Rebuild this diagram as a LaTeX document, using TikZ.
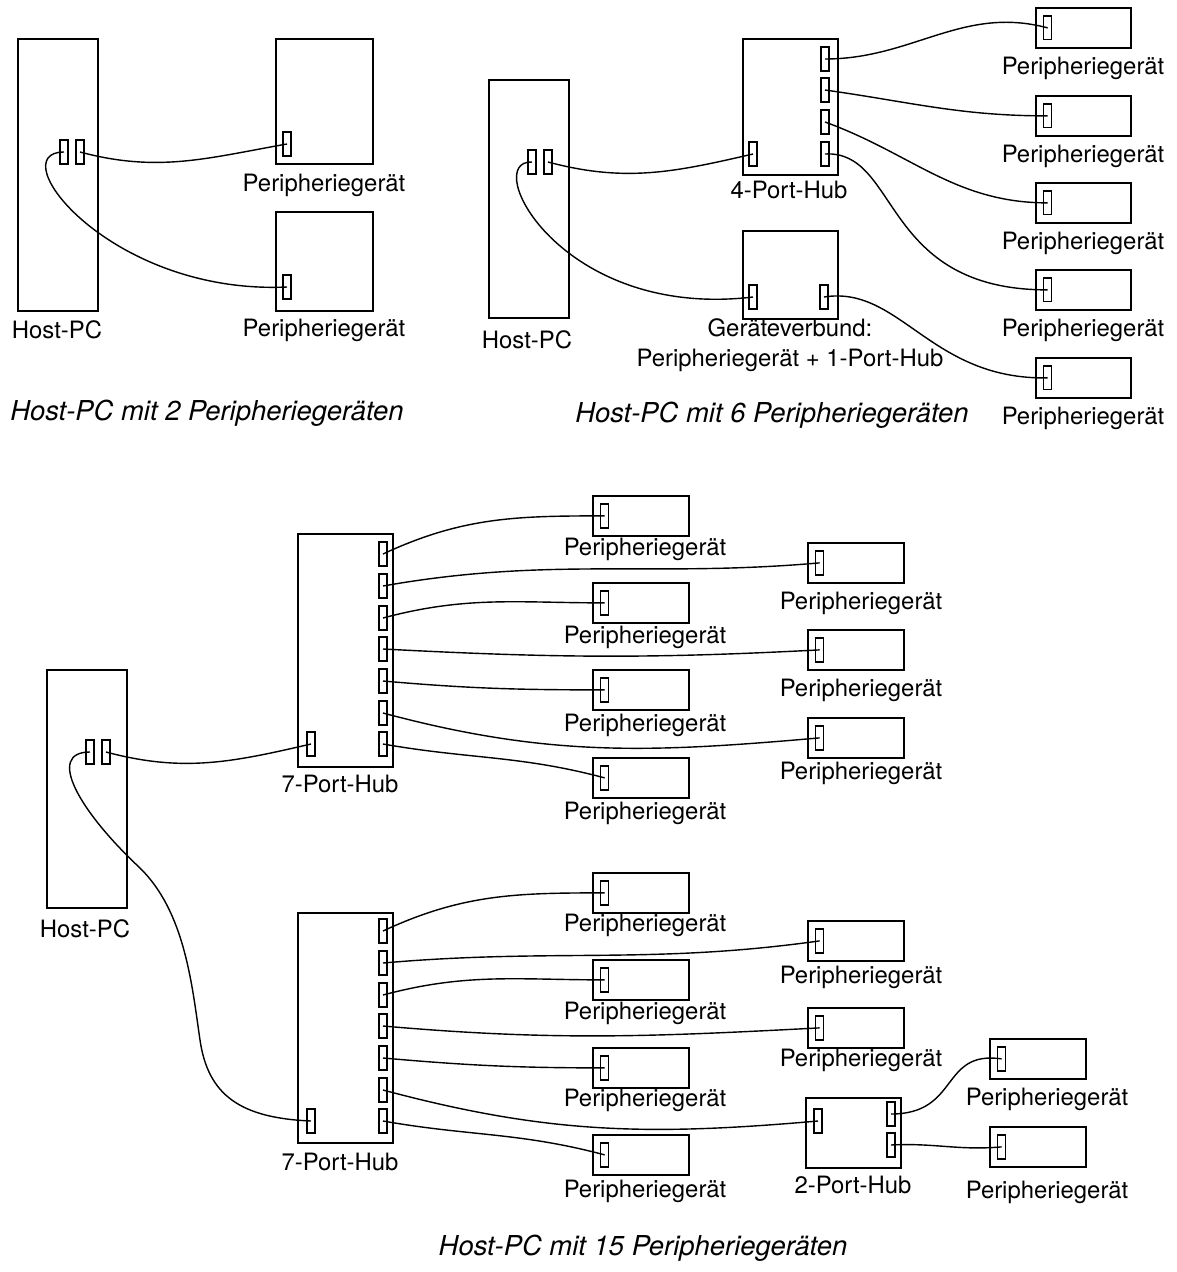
\documentclass[tikz,border=0pt]{standalone}
\usepackage{fontspec}
\setmainfont{TeX Gyre Heros}
\usetikzlibrary{positioning}

\begin{document}
\begin{tikzpicture}[x=0.02cm, y=-0.02cm,
  unit/.style 2 args={draw, line width=1pt, anchor=north west, inner sep=0pt,
    minimum width=#1*0.02cm, minimum height=#2*0.02cm},
  port/.style={draw, line width=0.7pt, inner sep=0pt,
    minimum width=0.16cm, minimum height=0.48cm},
  cable/.style={line width=0.8pt},
  lbl/.style={font=\fontsize{13.6pt}{17pt}\selectfont, inner sep=0pt, align=center},
  caption/.style={font=\fontsize{15.6pt}{19pt}\selectfont\itshape, inner sep=0pt}]

\useasboundingbox (0,0) rectangle (1177,1272);

% --- Host-PC mit 2 Peripheriegeraeten ---
\node[unit={80}{272}] (host1) at (17,38) {};
\node[port] (h1a) at (64,152) {};
\node[port] (h1b) at (80,152) {};
\node[lbl] (host1l) at (57,330) {Host-PC};

\node[unit={97}{125}] (q1) at (275,38) {};
\node[port] (q1p) at (287,144) {};
\node[lbl] (q1l) at (324,185) {Peripheriegerät};

\node[unit={97}{99}] (q2) at (275,211) {};
\node[port] (q2p) at (287,287) {};
\node[lbl] (q2l) at (324,330) {Peripheriegerät};

\draw[cable] (h1b.center) to[out=-15,in=190] (q1p.center);
\draw[cable] (h1a.center) .. controls (0,152) and (110,295) .. (q2p.center);

\node[caption] (cap1) at (207,413) {Host-PC mit 2 Peripheriegeräten};

% --- Host-PC mit 6 Peripheriegeraeten ---
\node[unit={80}{238}] (host2) at (488,79) {};
\node[port] (h2a) at (532,162) {};
\node[port] (h2b) at (548,162) {};
\node[lbl] (host2l) at (527,340) {Host-PC};

\node[unit={95}{136}] (hub4) at (742,38) {};
\foreach \i/\y in {1/59, 2/90, 3/122, 4/154}
  \node[port] (u\i) at (825,\y) {};
\node[port] (u5) at (753,154) {};
\node[lbl] (hub4l) at (789,190) {4-Port-Hub};

\node[unit={95}{88}] (verbund) at (742,230) {};
\node[port] (v1) at (753,297) {};
\node[port] (v2) at (824,297) {};
\node[lbl] (verbundl) at (790,345) {Geräteverbund:\\Peripheriegerät + 1-Port-Hub};

\foreach \n/\y in {r1/7, r2/95, r3/182, r4/269, r5/357} {
  \node[unit={95}{40}] (\n) at (1035,\y) {};
  \node[port, right=0.16cm of \n.west] (\n p) {};
  \node[lbl] at (1083,\y+61) {Peripheriegerät};
}

\draw[cable] (h2b.center) to[out=-15,in=193] (u5.center);
\draw[cable] (h2a.center) .. controls (480,160) and (560,320) .. (v1.center);
\draw[cable] (u1.center) to[out=0,in=165] (r1p.center);
\draw[cable] (u2.center) to[out=-8,in=180] (r2p.center);
\draw[cable] (u3.center) to[out=-20,in=180] (r3p.center);
\draw[cable] (u4.center) .. controls (900,150) and (880,290) .. (r4p.center);
\draw[cable] (v2.center) .. controls (900,285) and (930,380) .. (r5p.center);

\node[caption] (cap2) at (772,415) {Host-PC mit 6 Peripheriegeräten};

% --- Host-PC mit 15 Peripheriegeraeten ---
\node[unit={80}{238}] (host3) at (46,669) {};
\node[port] (h3a) at (90,752) {};
\node[port] (h3b) at (106,752) {};
\node[lbl] (host3l) at (85,929) {Host-PC};

% upper 7-port hub
\node[unit={95}{233}] (hubA) at (297,533) {};
\foreach \i/\y in {1/554, 2/586, 3/618, 4/649, 5/681, 6/713, 7/744}
  \node[port] (a\i) at (383,\y) {};
\node[port] (a8) at (311,744) {};
\node[lbl] (hubAl) at (340,784) {7-Port-Hub};

% lower 7-port hub
\node[unit={95}{230}] (hubB) at (297,912) {};
\foreach \i/\y in {1/931, 2/963, 3/995, 4/1026, 5/1058, 6/1090, 7/1121}
  \node[port] (b\i) at (383,\y) {};
\node[port] (b8) at (311,1121) {};
\node[lbl] (hubBl) at (340,1162) {7-Port-Hub};

% 2-port hub
\node[unit={95}{70}] (hub2) at (805,1097) {};
\node[port] (t1) at (818,1121) {};
\node[port] (t2) at (891,1114) {};
\node[port] (t3) at (891,1145) {};
\node[lbl] (hub2l) at (853,1185) {2-Port-Hub};

% peripherals
\foreach \n/\x/\y/\lx/\ly in {c1/592/495/645/549, c2/592/582/645/637,
    c3/592/669/645/725, c4/592/757/645/813,
    e1/807/542/861/603, e2/807/629/861/690, e3/807/717/861/773,
    f1/592/872/645/925, f2/592/959/645/1013, f3/592/1047/645/1100,
    f4/592/1134/645/1191,
    g1/807/920/861/977, g2/807/1007/861/1060,
    x1/989/1038/1047/1099, x2/989/1126/1047/1192} {
  \node[unit={96}{40}] (\n) at (\x,\y) {};
  \node[port, right=0.16cm of \n.west] (\n p) {};
  \node[lbl] at (\lx,\ly) {Peripheriegerät};
}

\draw[cable] (h3b.center) to[out=-15,in=193] (a8.center);
\draw[cable] (h3a.center) .. controls (45,752) and (80,812) .. (140,868)
  .. controls (185,912) and (192,985) .. (200,1040)
  .. controls (208,1095) and (240,1118) .. (b8.center);

\draw[cable] (a1.center) to[out=25,in=180] (c1p.center);
\draw[cable] (a2.center) to[out=10,in=185] (e1p.center);
\draw[cable] (a3.center) to[out=15,in=180] (c2p.center);
\draw[cable] (a4.center) to[out=-3,in=183] (e2p.center);
\draw[cable] (a5.center) to[out=-5,in=180] (c3p.center);
\draw[cable] (a6.center) to[out=-15,in=185] (e3p.center);
\draw[cable] (a7.center) to[out=-10,in=165] (c4p.center);

\draw[cable] (b1.center) to[out=25,in=180] (f1p.center);
\draw[cable] (b2.center) to[out=5,in=188] (g1p.center);
\draw[cable] (b3.center) to[out=15,in=180] (f2p.center);
\draw[cable] (b4.center) to[out=-5,in=183] (g2p.center);
\draw[cable] (b5.center) to[out=-5,in=180] (f3p.center);
\draw[cable] (b6.center) to[out=-15,in=185] (t1.center);
\draw[cable] (b7.center) to[out=-10,in=165] (f4p.center);

\draw[cable] (t2.center) .. controls (960,1114) and (940,1050) .. (x1p.center);
\draw[cable] (t3.center) to[out=3,in=185] (x2p.center);

\node[caption] (cap3) at (643,1248) {Host-PC mit 15 Peripheriegeräten};

\end{tikzpicture}
\end{document}
